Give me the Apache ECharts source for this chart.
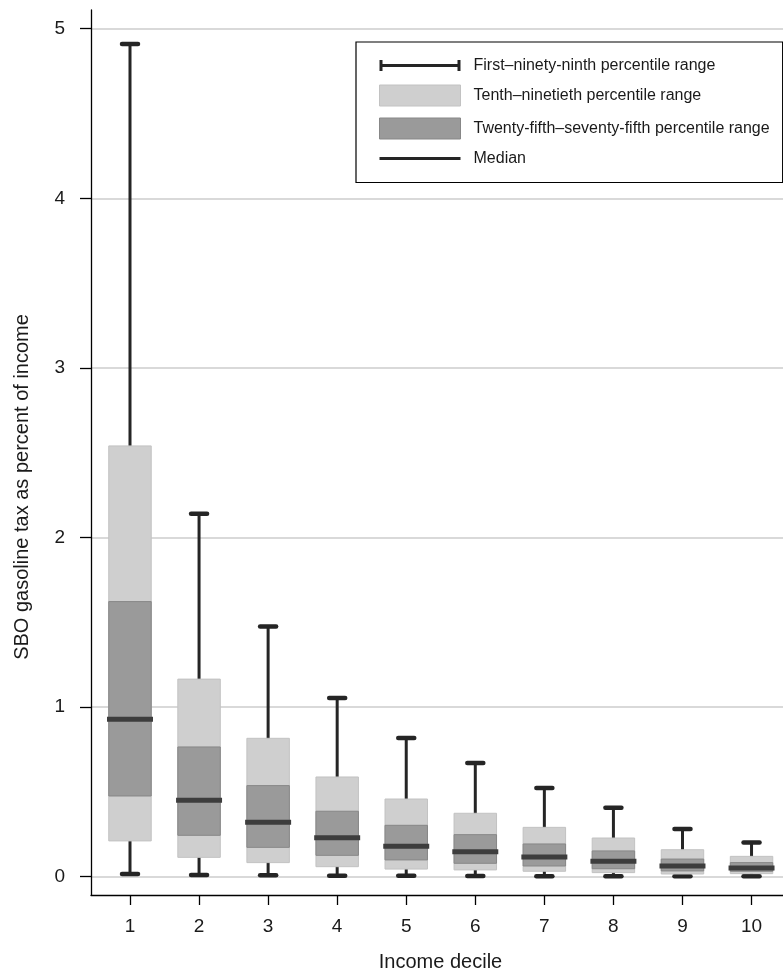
<!DOCTYPE html>
<html>
<head>
<meta charset="utf-8">
<script src="https://cdn.jsdelivr.net/npm/echarts@6/dist/echarts.min.js"></script>
<style>
html, body { margin: 0; padding: 0; background: #fff; }
#chart { width: 783px; height: 969px; }
</style>
</head>
<body>
<div id="chart"></div>
<script>
// values (percent of income)
var decileLabels = ['1', '2', '3', '4', '5', '6', '7', '8', '9', '10'];
var deciles = [1, 2, 3, 4, 5, 6, 7, 8, 9, 10];
var p1     = [0.016, 0.010, 0.008, 0.006, 0.005, 0.004, 0.003, 0.003, 0.002, 0.002];
var p10    = [0.211, 0.114, 0.083, 0.059, 0.045, 0.040, 0.032, 0.024, 0.016, 0.018];
var p25    = [0.476, 0.244, 0.173, 0.126, 0.099, 0.079, 0.063, 0.047, 0.034, 0.032];
var median = [0.929, 0.451, 0.321, 0.230, 0.179, 0.147, 0.116, 0.091, 0.063, 0.051];
var p75    = [1.622, 0.765, 0.537, 0.386, 0.303, 0.248, 0.193, 0.152, 0.104, 0.083];
var p90    = [2.540, 1.165, 0.816, 0.588, 0.458, 0.374, 0.291, 0.228, 0.159, 0.120];
var p99    = [4.910, 2.140, 1.475, 1.054, 0.818, 0.671, 0.523, 0.407, 0.281, 0.201];
var yTicks = [0, 1, 2, 3, 4, 5];

var FONT = '"Liberation Sans", Arial, sans-serif';
var names = [
    'First\u2013ninety-ninth percentile range',
    'Tenth\u2013ninetieth percentile range',
    'Twenty-fifth\u2013seventy-fifth percentile range',
    'Median'
];

function rangeData(lo, hi) {
    return deciles.map(function (d, i) { return [d, lo[i], hi[i]]; });
}

function renderWhisker(params, api) {
    var x = api.value(0);
    var lo = api.coord([x, api.value(1)]);
    var hi = api.coord([x, api.value(2)]);
    var cap = api.size([0.232, 0])[0] / 2;
    return {
        type: 'group',
        children: [
            { type: 'line', shape: { x1: lo[0], y1: lo[1], x2: hi[0], y2: hi[1] },
              style: { stroke: '#252525', lineWidth: 3 } },
            { type: 'line', shape: { x1: lo[0] - cap, y1: lo[1], x2: lo[0] + cap, y2: lo[1] },
              style: { stroke: '#252525', lineWidth: 4.5, lineCap: 'round' } },
            { type: 'line', shape: { x1: hi[0] - cap, y1: hi[1], x2: hi[0] + cap, y2: hi[1] },
              style: { stroke: '#252525', lineWidth: 4.5, lineCap: 'round' } }
        ]
    };
}

function renderBox(params, api) {
    var x = api.value(0);
    var lo = api.coord([x, api.value(1)]);
    var hi = api.coord([x, api.value(2)]);
    var w = api.size([0.615, 0])[0];
    return {
        type: 'rect',
        shape: { x: lo[0] - w / 2, y: hi[1], width: w, height: lo[1] - hi[1] },
        style: api.style()
    };
}

function renderMedian(params, api) {
    var x = api.value(0);
    var p = api.coord([x, api.value(1)]);
    var w = api.size([0.666, 0])[0];
    return {
        type: 'line',
        shape: { x1: p[0] - w / 2, y1: p[1], x2: p[0] + w / 2, y2: p[1] },
        style: { stroke: '#3d3d3d', lineWidth: 5 }
    };
}

var option = {
    animation: false,
    backgroundColor: '#ffffff',
    textStyle: { fontFamily: FONT },
    grid: [
        { left: 91, right: -7, top: 28.7, bottom: 92.3, outerBoundsMode: 'none' },
        { left: 91, right: -7, top: 10, bottom: 74, outerBoundsMode: 'none' },
        { left: 95.4, right: -3, top: 10, bottom: 74, outerBoundsMode: 'none' }
    ],
    legend: {
        orient: 'vertical',
        left: 356,
        top: 42,
        padding: [15.5, 13, 16, 23],
        borderColor: '#000',
        borderWidth: 1.2,
        itemWidth: 81,
        itemHeight: 21,
        itemGap: 11,
        selectedMode: false,
        textStyle: { fontFamily: FONT, fontSize: 16, color: '#1a1a1a', padding: [0, 0, 0, 8] },
        data: [
            { name: names[0], icon: 'path://M0,0h3v11h-3z M3,4h75v3h-75z M78,0h3v11h-3z',
              itemStyle: { color: '#252525' } },
            { name: names[1], icon: 'rect',
              itemStyle: { color: '#cfcfcf', borderColor: '#c2c2c2', borderWidth: 1 } },
            { name: names[2], icon: 'rect',
              itemStyle: { color: '#9a9a9a', borderColor: '#878787', borderWidth: 1 } },
            { name: names[3], icon: 'path://M0,0h81v3h-81z',
              itemStyle: { color: '#252525' } }
        ]
    },
    xAxis: [
        { gridIndex: 0, type: 'value', min: 0.4353, max: 10.557, show: false },
        { gridIndex: 1, type: 'value', min: 0, max: 1,
          axisLine: { show: true, onZero: false, lineStyle: { color: '#000', width: 1.3 } },
          axisTick: { show: false }, axisLabel: { show: false }, splitLine: { show: false },
          name: 'Income decile', nameLocation: 'middle', nameGap: 57,
          nameTextStyle: { fontFamily: FONT, fontSize: 20, color: '#1a1a1a' } },
        { gridIndex: 2, type: 'category', data: decileLabels, boundaryGap: true,
          axisLine: { show: false, onZero: false },
          axisTick: { show: true, alignWithLabel: true, length: 10, lineStyle: { color: '#000', width: 1.3 } },
          axisLabel: { margin: 22, fontFamily: FONT, fontSize: 19, color: '#1a1a1a' },
          splitLine: { show: false } }
    ],
    yAxis: [
        { gridIndex: 0, type: 'value', min: yTicks[0], max: yTicks[yTicks.length - 1], interval: 1,
          axisLine: { show: false },
          axisTick: { show: true, length: 11, lineStyle: { color: '#000', width: 1.3 } },
          axisLabel: { margin: 26, fontFamily: FONT, fontSize: 19, color: '#1a1a1a' },
          splitLine: { show: true, lineStyle: { color: '#cccccc', width: 1.5 } } },
        { gridIndex: 1, type: 'value', min: 0, max: 1,
          axisLine: { show: true, onZero: false, lineStyle: { color: '#000', width: 1.3 } },
          axisTick: { show: false }, axisLabel: { show: false }, splitLine: { show: false } },
        { gridIndex: 2, type: 'value', min: 0, max: 1, show: false }
    ],
    graphic: [
        { type: 'text', x: 22, y: 487, rotation: Math.PI / 2,
          style: { text: 'SBO gasoline tax as percent of income', fill: '#1a1a1a',
                   font: '20px ' + FONT, textAlign: 'center', textVerticalAlign: 'middle' } }
    ],
    series: [
        { name: names[0], type: 'custom', xAxisIndex: 0, yAxisIndex: 0, z: 2,
          itemStyle: { color: '#252525' },
          encode: { x: 0, y: [1, 2] },
          data: rangeData(p1, p99), renderItem: renderWhisker },
        { name: names[1], type: 'custom', xAxisIndex: 0, yAxisIndex: 0, z: 3,
          itemStyle: { color: '#cfcfcf', borderColor: '#c2c2c2', borderWidth: 1 },
          encode: { x: 0, y: [1, 2] },
          data: rangeData(p10, p90), renderItem: renderBox },
        { name: names[2], type: 'custom', xAxisIndex: 0, yAxisIndex: 0, z: 4,
          itemStyle: { color: '#9a9a9a', borderColor: '#878787', borderWidth: 1 },
          encode: { x: 0, y: [1, 2] },
          data: rangeData(p25, p75), renderItem: renderBox },
        { name: names[3], type: 'custom', xAxisIndex: 0, yAxisIndex: 0, z: 5,
          itemStyle: { color: '#252525' },
          encode: { x: 0, y: 1 },
          data: deciles.map(function (d, i) { return [d, median[i]]; }), renderItem: renderMedian }
    ]
};

var myChart = echarts.init(document.getElementById('chart'));
myChart.setOption(option);
</script>
</body>
</html>
